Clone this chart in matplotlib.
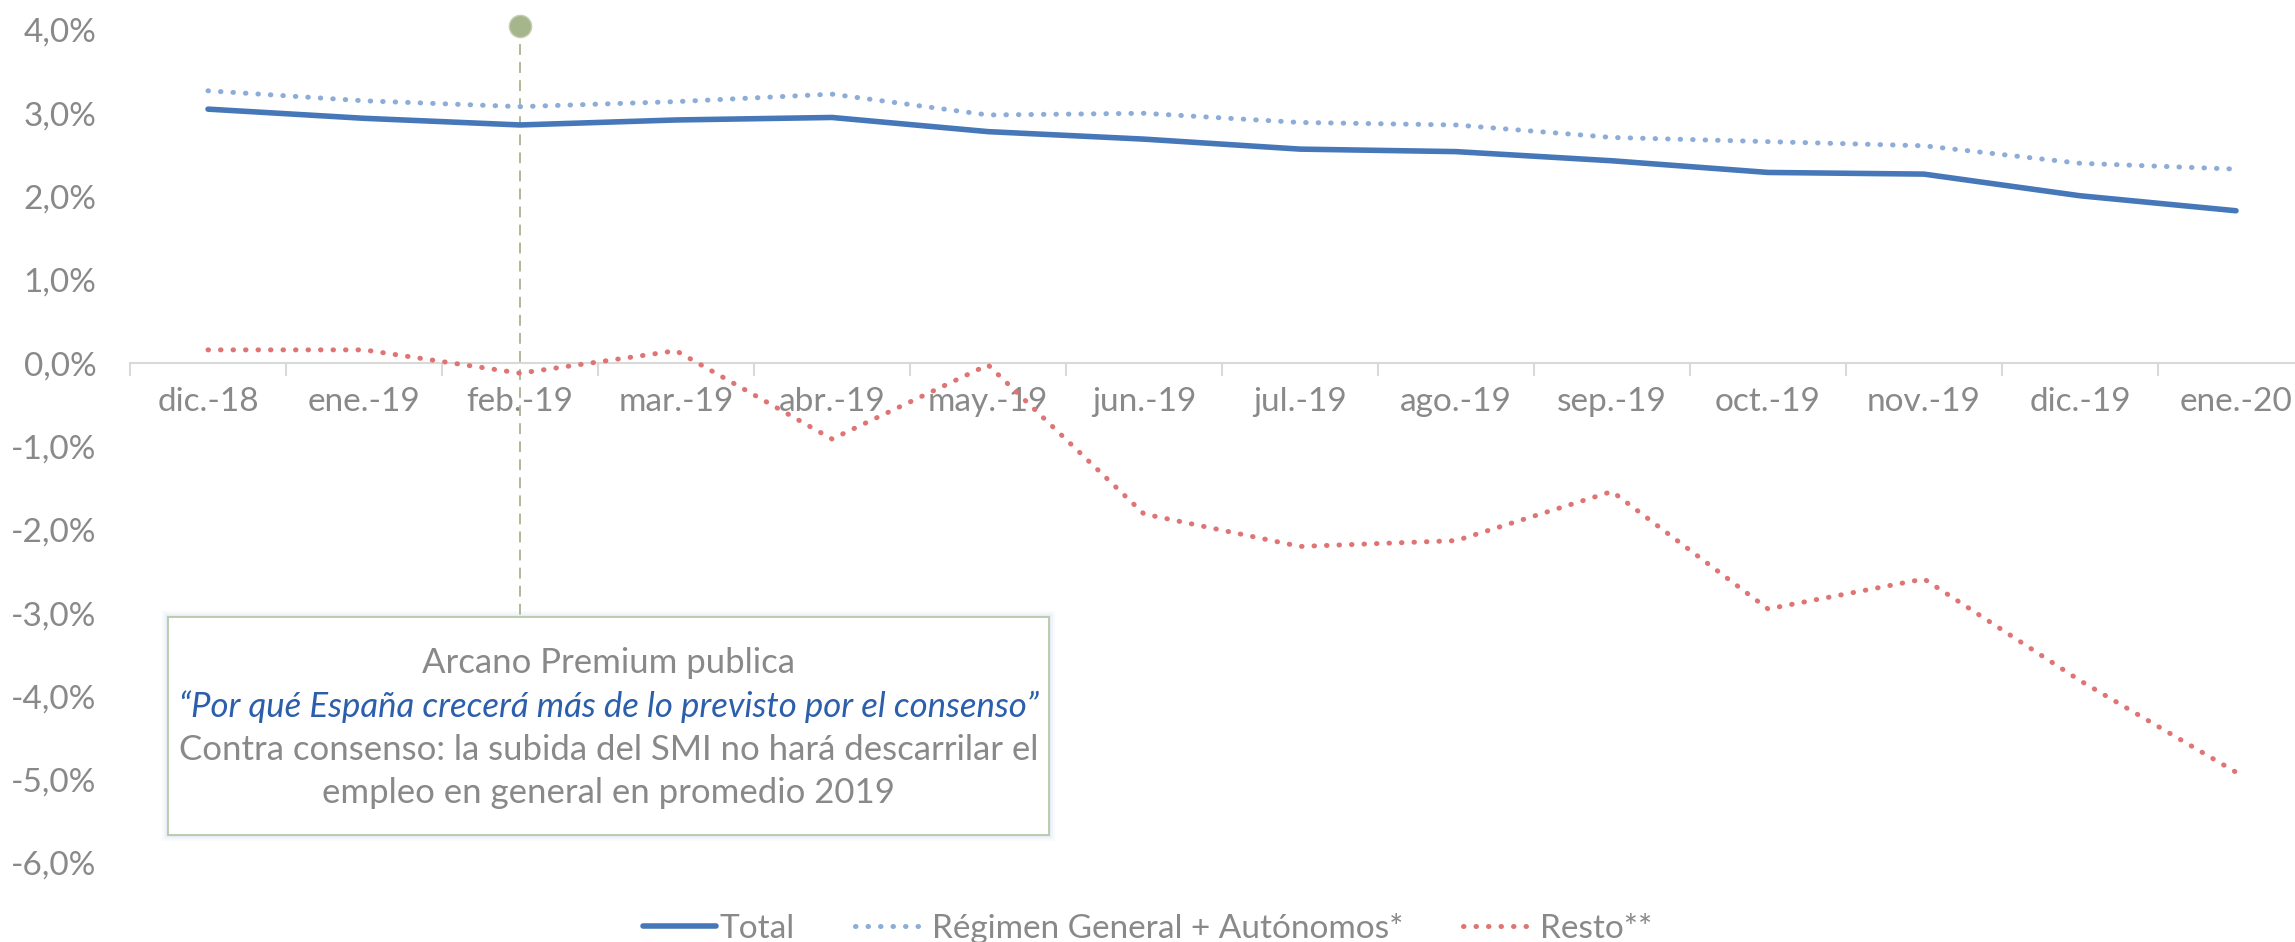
import numpy as np
import matplotlib
matplotlib.use('Agg')
import matplotlib.pyplot as plt
from matplotlib.patches import Rectangle
from matplotlib.ticker import FuncFormatter, FixedLocator

plt.rcParams['font.family'] = ['Lato', 'DejaVu Sans']

# monthly series, % y/y
months = ['dic.-18', 'ene.-19', 'feb.-19', 'mar.-19', 'abr.-19', 'may.-19', 'jun.-19',
          'jul.-19', 'ago.-19', 'sep.-19', 'oct.-19', 'nov.-19', 'dic.-19', 'ene.-20']
total = [3.05, 2.94, 2.86, 2.92, 2.95, 2.78, 2.69, 2.57, 2.54, 2.43, 2.29, 2.27, 2.01, 1.83]
general_autonomos = [3.27, 3.15, 3.08, 3.14, 3.23, 2.98, 3.00, 2.89, 2.86, 2.71, 2.66, 2.61, 2.40, 2.33]
resto = [0.16, 0.16, -0.12, 0.15, -0.91, -0.02, -1.81, -2.20, -2.13, -1.54, -2.95, -2.59, -3.81, -4.91]

event_month = 'feb.-19'
event_level = 4.05
note_title = 'Arcano Premium publica'
note_quote = '\u201cPor qué España crecerá más de lo previsto por el consenso\u201d'
note_body = ['Contra consenso: la subida del SMI no hará descarrilar el',
             'empleo en general en promedio 2019']

grey = '#898989'
c_total = '#4677b8'
c_rg = '#8dacd8'
c_resto = '#de7474'
c_event = '#a5b58c'

W, H = 2295, 942
fig = plt.figure(figsize=(W / 100, H / 100), dpi=100)
ax = fig.add_axes([130 / W, 79 / H, (2314 - 130) / W, 833 / H])

x = np.arange(len(months))
dots = (0, (0.1, 2.4))
ax.plot(x, total, color=c_total, lw=4.0, solid_joinstyle='round', solid_capstyle='round',
        label='Total', zorder=4)
ax.plot(x, general_autonomos, color=c_rg, lw=3.6, linestyle=dots, dash_capstyle='round',
        label='Régimen General + Autónomos*', zorder=3)
ax.plot(x, resto, color=c_resto, lw=3.6, linestyle=dots, dash_capstyle='round',
        label='Resto**', zorder=3)

# event marker with dashed drop line into the note box
ex = months.index(event_month)
ax.plot([ex, ex], [event_level, -4.0], color=c_event, lw=1.3, linestyle=(0, (6, 4)), zorder=2)
ax.plot(ex, event_level, 'o', ms=16, color=c_event, mec='#c3cfb0', mew=1, clip_on=False, zorder=5)

ax.set_xlim(-0.5, 13.5)
ax.set_ylim(-6, 4)

for s in ['top', 'right', 'left']:
    ax.spines[s].set_visible(False)
ax.spines['bottom'].set_position(('data', 0))
ax.spines['bottom'].set_color('#d9d9d9')
ax.spines['bottom'].set_linewidth(1.5)

ax.set_xticks(x)
ax.set_xticklabels(months)
ax.xaxis.set_minor_locator(FixedLocator(np.arange(-0.5, 13.6, 1)))
ax.tick_params(axis='x', which='major', length=0, pad=17, labelsize=24, labelcolor=grey)
ax.tick_params(axis='x', which='minor', length=9, width=1.5, color='#d9d9d9')

ax.set_yticks(np.arange(-6, 4.1, 1))
ax.yaxis.set_major_formatter(FuncFormatter(lambda v, p: f'{v:.1f}%'.replace('.', ',')))
ax.tick_params(axis='y', length=0, pad=24, labelsize=24, labelcolor=grey)

# note box with soft glow
bx0, by0, bx1, by1 = 168, 617, 1049, 835
for i, a in enumerate([0.06, 0.08, 0.12]):
    g = 6 - 2 * i
    fig.patches.append(Rectangle(((bx0 - g) / W, 1 - (by1 + g) / H), (bx1 - bx0 + 2 * g) / W,
                                 (by1 - by0 + 2 * g) / H, transform=fig.transFigure,
                                 facecolor='#9db8dc', edgecolor='none', alpha=a, zorder=1))
fig.patches.append(Rectangle((bx0 / W, 1 - by1 / H), (bx1 - bx0) / W, (by1 - by0) / H,
                             transform=fig.transFigure, facecolor='white',
                             edgecolor='#b8c8a8', lw=1.3, zorder=1))

cx = (bx0 + bx1) / 2 / W
fig.text(cx, 1 - 663 / H, note_title, ha='center', va='center', fontsize=25, color=grey)
fig.text(cx, 1 - 707 / H, note_quote, ha='center', va='center', fontsize=25,
         color='#2b5eab', style='italic')
for i, line in enumerate(note_body):
    fig.text(cx, 1 - (750 + 43 * i) / H, line, ha='center', va='center', fontsize=25, color=grey)

fig.legend(loc='center', bbox_to_anchor=(0.5, 14 / H), ncol=3, frameon=False, fontsize=24,
           labelcolor=grey, handlelength=2.2, handletextpad=0.1, columnspacing=1.8)

fig.savefig('out.png', dpi=100)
